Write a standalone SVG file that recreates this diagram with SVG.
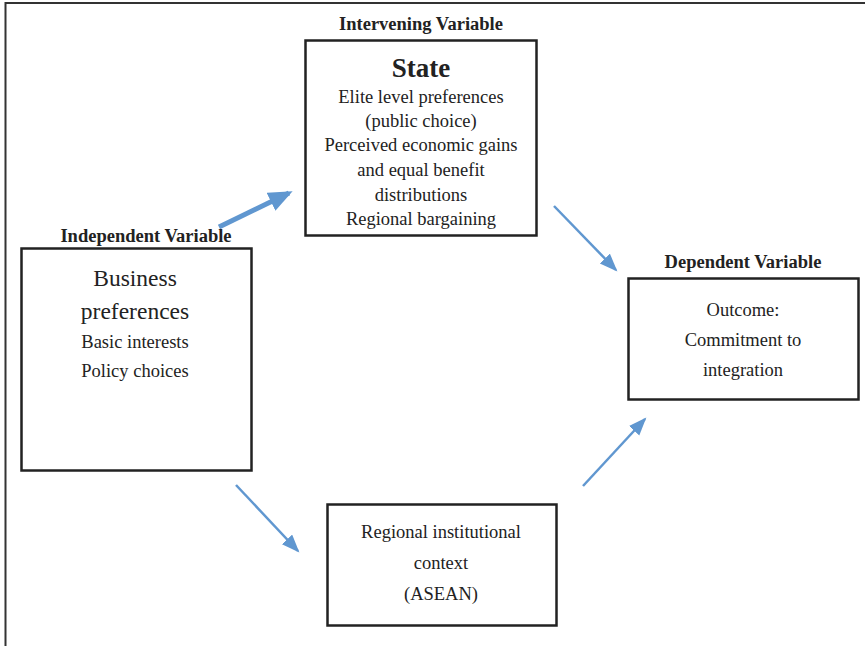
<svg xmlns="http://www.w3.org/2000/svg" width="865" height="646" viewBox="0 0 865 646">
<style>
.box{fill:#fff;stroke:#222;stroke-width:2.5}
.t{font-family:"Liberation Serif","Times New Roman",serif;fill:#222;text-anchor:middle;font-size:18.5px}
.h{font-weight:bold}
.big{font-size:23.5px}
.conn{stroke:#6097d0;stroke-width:2.5;fill:none}
</style>
<defs>
<marker id="ah" markerUnits="userSpaceOnUse" markerWidth="20" markerHeight="16" refX="16" refY="7" orient="auto">
<path d="M0,0 L18,7 L0,14 Z" fill="#6097d0"/>
</marker>
<marker id="ahb" markerUnits="userSpaceOnUse" markerWidth="26" markerHeight="22" refX="20" refY="10" orient="auto">
<path d="M0,0 L24,10 L0,20 Z" fill="#6097d0"/>
</marker>
</defs>
<rect width="865" height="646" fill="#fff"/>
<path d="M5.5,646 V3 H865" fill="none" stroke="#333" stroke-width="2"/>
<g id="connectors">
<line class="conn" x1="219" y1="227" x2="289" y2="193" style="stroke-width:5" marker-end="url(#ahb)"/>
<line class="conn" x1="554" y1="206" x2="616" y2="270" marker-end="url(#ah)"/>
<line class="conn" x1="236" y1="485" x2="298" y2="551" marker-end="url(#ah)"/>
<line class="conn" x1="583" y1="486" x2="645" y2="419" marker-end="url(#ah)"/>
</g>
<g id="state">
<text class="t h" x="421" y="30">Intervening Variable</text>
<rect class="box" x="305.5" y="40.5" width="231" height="195"/>
<text class="t h" x="421" y="77" style="font-size:27px">State</text>
<text class="t" x="421" y="103">Elite level preferences</text>
<text class="t" x="421" y="127">(public choice)</text>
<text class="t" x="421" y="151">Perceived economic gains</text>
<text class="t" x="421" y="176">and equal benefit</text>
<text class="t" x="421" y="201">distributions</text>
<text class="t" x="421" y="225">Regional bargaining</text>
</g>
<g id="business">
<text class="t h" x="146" y="242">Independent Variable</text>
<rect class="box" x="21.5" y="248.5" width="230" height="222"/>
<text class="t big" x="135" y="286">Business</text>
<text class="t big" x="135" y="319">preferences</text>
<text class="t" x="135" y="348">Basic interests</text>
<text class="t" x="135" y="377">Policy choices</text>
</g>
<g id="outcome">
<text class="t h" x="743" y="268">Dependent Variable</text>
<rect class="box" x="628.5" y="278.5" width="230" height="121"/>
<text class="t" x="743" y="316">Outcome:</text>
<text class="t" x="743" y="346">Commitment to</text>
<text class="t" x="743" y="376">integration</text>
</g>
<g id="asean">
<rect class="box" x="327.5" y="504.5" width="229" height="121"/>
<text class="t" x="441" y="538">Regional institutional</text>
<text class="t" x="441" y="569">context</text>
<text class="t" x="441" y="600">(ASEAN)</text>
</g>
</svg>
